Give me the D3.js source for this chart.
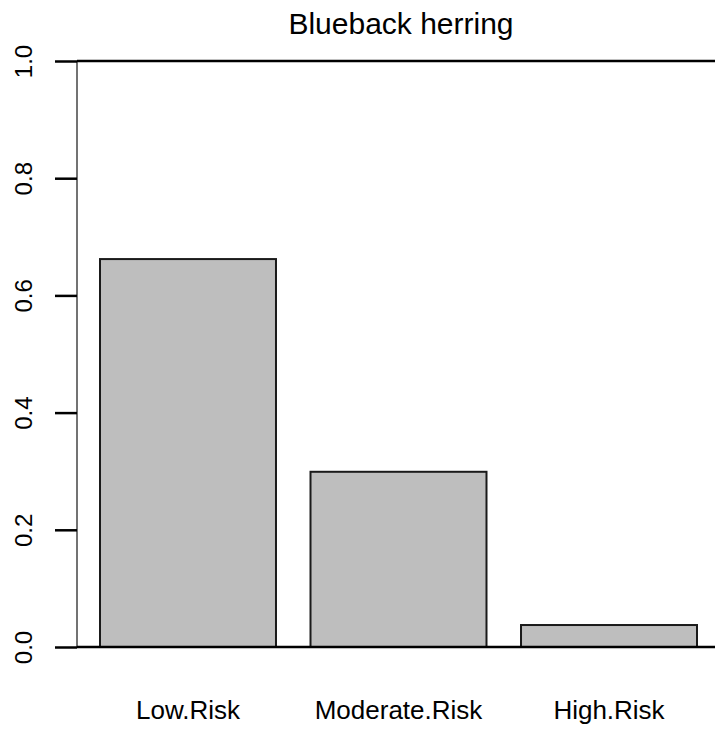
<!DOCTYPE html>
<html><head><meta charset="utf-8">
<script src="https://cdn.jsdelivr.net/npm/d3@7"></script>
<style>body{margin:0;background:#fff}svg{display:block}text{font-family:"Liberation Sans",Arial,sans-serif;fill:#000}</style>
</head><body>
<script>
const title = "Blueback herring";
const categories = ["Low.Risk", "Moderate.Risk", "High.Risk"];
const values = [0.662, 0.299, 0.0375];
const yTicks = [0, 0.2, 0.4, 0.6, 0.8, 1.0];

const W = 715, H = 729;
const svg = d3.select("body").append("svg").attr("width", W).attr("height", H);

const x = d3.scaleBand().domain(categories).range([100, 697]).paddingInner(0.164).paddingOuter(0);
const y = d3.scaleLinear().domain([0, 1]).range([647, 61]);

// bars
svg.selectAll("rect.bar").data(categories).enter().append("rect")
  .attr("class", "bar")
  .attr("x", d => x(d))
  .attr("y", (d, i) => y(values[i]))
  .attr("width", x.bandwidth())
  .attr("height", (d, i) => y(0) - y(values[i]))
  .attr("fill", "#bebebe").attr("stroke", "#1a1a1a").attr("stroke-width", 2);

// y axis
const yAxis = d3.axisLeft(y).tickValues(yTicks).tickSize(22).tickFormat(d3.format(".1f"));
const ga = svg.append("g").attr("transform", "translate(77,0)").call(yAxis);
ga.select(".domain").attr("stroke", "#444").attr("stroke-width", 1.5).attr("d", `M0,${y(0)}V${y(1)}`);
ga.selectAll(".tick line").attr("stroke", "#000").attr("stroke-width", 2.5);
ga.selectAll(".tick text")
  .attr("font-size", 24).attr("font-family", "Liberation Sans, Arial, sans-serif")
  .attr("text-anchor", "middle").attr("dy", null).attr("x", null)
  .attr("transform", "translate(-45,0) rotate(-90)")
  .style("fill", "#000");

// horizontal reference lines at 0 and 1
svg.selectAll("line.h").data([0, 1]).enter().append("line")
  .attr("class", "h")
  .attr("x1", 77).attr("x2", W)
  .attr("y1", d => y(d)).attr("y2", d => y(d))
  .attr("stroke", "#000").attr("stroke-width", 2.5);

// category labels
svg.selectAll("text.cat").data(categories).enter().append("text")
  .attr("class", "cat")
  .attr("x", d => x(d) + x.bandwidth() / 2)
  .attr("y", 719)
  .attr("text-anchor", "middle").attr("font-size", 26)
  .text(d => d);

// title
svg.append("text").attr("x", 401).attr("y", 34).attr("text-anchor", "middle")
  .attr("font-size", 30).text(title);
</script>
</body></html>
